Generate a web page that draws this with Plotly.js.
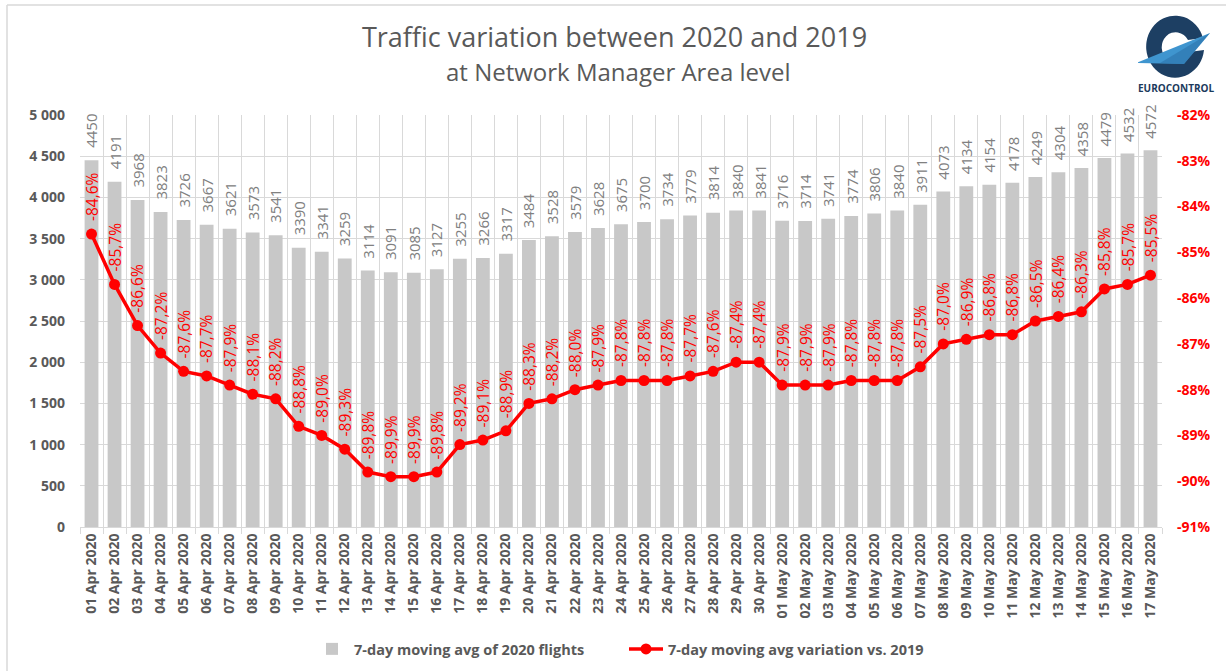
<!DOCTYPE html>
<html>
<head>
<meta charset="utf-8">
<script src="https://cdn.plot.ly/plotly-3.0.1.min.js"></script>
<style>html,body{margin:0;padding:0;background:#fff;}#chart{width:1226px;height:671px;}</style>
</head>
<body>
<div id="chart"></div>
<script>
const dates = [
  "01 Apr 2020","02 Apr 2020","03 Apr 2020","04 Apr 2020","05 Apr 2020","06 Apr 2020","07 Apr 2020","08 Apr 2020","09 Apr 2020","10 Apr 2020",
  "11 Apr 2020","12 Apr 2020","13 Apr 2020","14 Apr 2020","15 Apr 2020","16 Apr 2020","17 Apr 2020","18 Apr 2020","19 Apr 2020","20 Apr 2020",
  "21 Apr 2020","22 Apr 2020","23 Apr 2020","24 Apr 2020","25 Apr 2020","26 Apr 2020","27 Apr 2020","28 Apr 2020","29 Apr 2020","30 Apr 2020",
  "01 May 2020","02 May 2020","03 May 2020","04 May 2020","05 May 2020","06 May 2020","07 May 2020","08 May 2020","09 May 2020","10 May 2020",
  "11 May 2020","12 May 2020","13 May 2020","14 May 2020","15 May 2020","16 May 2020","17 May 2020"
];
const flights2020 = [
  4450,4191,3968,3823,3726,3667,3621,3573,3541,3390,
  3341,3259,3114,3091,3085,3127,3255,3266,3317,3484,
  3528,3579,3628,3675,3700,3734,3779,3814,3840,3841,
  3716,3714,3741,3774,3806,3840,3911,4073,4134,4154,
  4178,4249,4304,4358,4479,4532,4572
];
const variationPct = [
  -84.6,-85.7,-86.6,-87.2,-87.6,-87.7,-87.9,-88.1,-88.2,-88.8,
  -89.0,-89.3,-89.8,-89.9,-89.9,-89.8,-89.2,-89.1,-88.9,-88.3,
  -88.2,-88.0,-87.9,-87.8,-87.8,-87.8,-87.7,-87.6,-87.4,-87.4,
  -87.9,-87.9,-87.9,-87.8,-87.8,-87.8,-87.5,-87.0,-86.9,-86.8,
  -86.8,-86.5,-86.4,-86.3,-85.8,-85.7,-85.5
];
const leftTicks = [0,500,1000,1500,2000,2500,3000,3500,4000,4500,5000];
const leftTickText = ["0","500","1 000","1 500","2 000","2 500","3 000","3 500","4 000","4 500","5 000"];
const rightTicks = [-91,-90,-89,-88,-87,-86,-85,-84,-83,-82];
const rightTickText = ["-91%","-90%","-89%","-88%","-87%","-86%","-85%","-84%","-83%","-82%"];

const FONT = "Open Sans, Noto Sans, sans-serif";
const GREY = "#595959";
const RED = "#ff0000";

const barTrace = {
  type: "bar",
  x: dates,
  y: flights2020,
  name: "7-day moving avg of 2020 flights",
  marker: {color: "#c8c8c8"},
  hoverinfo: "x+y"
};
const lineTrace = {
  type: "scatter",
  mode: "lines+markers",
  x: dates,
  y: variationPct,
  yaxis: "y2",
  name: "7-day moving avg variation vs. 2019",
  line: {color: RED, width: 3.5},
  marker: {color: RED, size: 11},
  cliponaxis: false
};

const annotations = [];
dates.forEach((d, i) => {
  annotations.push({
    x: d, y: flights2020[i], xref: "x", yref: "y",
    text: String(flights2020[i]), textangle: -90, showarrow: false,
    xanchor: "center", yanchor: "bottom", yshift: 10,
    font: {family: FONT, size: 15, color: "#808080"}
  });
  annotations.push({
    x: d, y: variationPct[i], xref: "x", yref: "y2",
    text: variationPct[i].toFixed(1).replace(".", ",") + "%", textangle: -90, showarrow: false,
    xanchor: "center", yanchor: "bottom", yshift: 11,
    font: {family: FONT, size: 15.5, color: RED}
  });
});
// Subtitle
annotations.push({
  xref: "paper", yref: "paper", x: (618 - 80) / 1082, y: (527 - 72) / 412, xanchor: "center", yanchor: "middle",
  text: "at Network Manager Area level", showarrow: false,
  font: {family: FONT, size: 24, color: GREY}
});
// Logo caption
annotations.push({
  xref: "paper", yref: "paper", x: (1176 - 80) / 1082, y: (527 - 88) / 412, xanchor: "center", yanchor: "middle",
  text: "<b>EUROCONTROL</b>", showarrow: false,
  font: {family: FONT, size: 10, color: "#1b3a5c"}
});

const logoSvg = '<svg xmlns="http://www.w3.org/2000/svg" width="74" height="68" viewBox="1138 12 74 68">' +
  '<path fill="#1d3f63" fill-rule="evenodd" d="M1204 50 A29 31 0 1 1 1203 38 L1188 40 A14 15 0 1 0 1189 52 Z"/>' +
  '<path fill="#3f95cf" d="M1136 63 L1210 33 L1184 64 Z"/>' +
  '<path fill="#2a6fa8" d="M1160 63 L1210 33 L1184 64 Z" opacity="0.55"/>' +
  '</svg>';
const logoUri = "data:image/svg+xml;base64," + btoa(logoSvg);

const layout = {
  width: 1226, height: 671,
  margin: {l: 80, r: 64, t: 115, b: 144, autoexpand: false},
  paper_bgcolor: "#ffffff", plot_bgcolor: "#ffffff",
  separators: ", ",
  font: {family: FONT, color: GREY},
  title: {
    text: "Traffic variation between 2020 and 2019",
    x: 614.5 / 1226, xref: "container", xanchor: "center", yref: "container", y: 1 - 38 / 671, yanchor: "middle",
    font: {family: FONT, size: 27, color: GREY}
  },
  bargap: 0.4,
  showlegend: true,
  legend: {
    orientation: "h", x: (624 - 80) / 1082, xanchor: "center", y: -0.296, yanchor: "middle",
    font: {family: FONT, size: 14.5, color: GREY, weight: "bold"},
    itemwidth: 34, traceorder: "normal", entrywidth: 265
  },
  xaxis: {
    type: "category",
    range: [-0.5, dates.length - 0.5],
    autorange: false,
    tickangle: -90,
    tickson: "boundaries",
    showgrid: true, gridcolor: "#d9d9d9", gridwidth: 1,
    ticks: "outside", ticklen: 6, tickcolor: "#d9d9d9",
    showline: true, linecolor: "#d9d9d9",
    tickfont: {family: FONT, size: 14, color: GREY, weight: "bold"},
    automargin: false
  },
  yaxis: {
    range: [0, 5000], autorange: false,
    tickvals: leftTicks, ticktext: leftTickText,
    showgrid: true, gridcolor: "#d9d9d9", gridwidth: 1,
    zeroline: false,
    ticks: "", ticklabelstandoff: 14,
    tickfont: {family: FONT, size: 14, color: GREY, weight: "bold"},
    automargin: false
  },
  yaxis2: {
    overlaying: "y", side: "right",
    range: [-91, -82], autorange: false,
    tickvals: rightTicks, ticktext: rightTickText,
    showgrid: false, zeroline: false,
    ticks: "", ticklabelstandoff: 14,
    tickfont: {family: FONT, size: 14, color: RED, weight: "bold"},
    automargin: false
  },
  shapes: [
    {type: "line", xref: "paper", yref: "paper", x0: (7 - 80) / 1082, x1: (7 - 80) / 1082, y0: -0.4, y1: (527 - 5) / 412, line: {color: "#d9d9d9", width: 1.5}},
    {type: "line", xref: "paper", yref: "paper", x0: (7 - 80) / 1082, x1: 1.2, y0: (527 - 5) / 412, y1: (527 - 5) / 412, line: {color: "#d9d9d9", width: 1.5}}
  ],
  images: [{
    source: logoUri, xref: "paper", yref: "paper",
    x: (1138 - 80) / 1082, y: (527 - 12) / 412, sizex: 74 / 1082, sizey: 68 / 412,
    xanchor: "left", yanchor: "top", sizing: "stretch", layer: "above"
  }],
  annotations: annotations
};

Plotly.newPlot("chart", [barTrace, lineTrace], layout, {displayModeBar: false, staticPlot: true});
</script>
</body>
</html>
